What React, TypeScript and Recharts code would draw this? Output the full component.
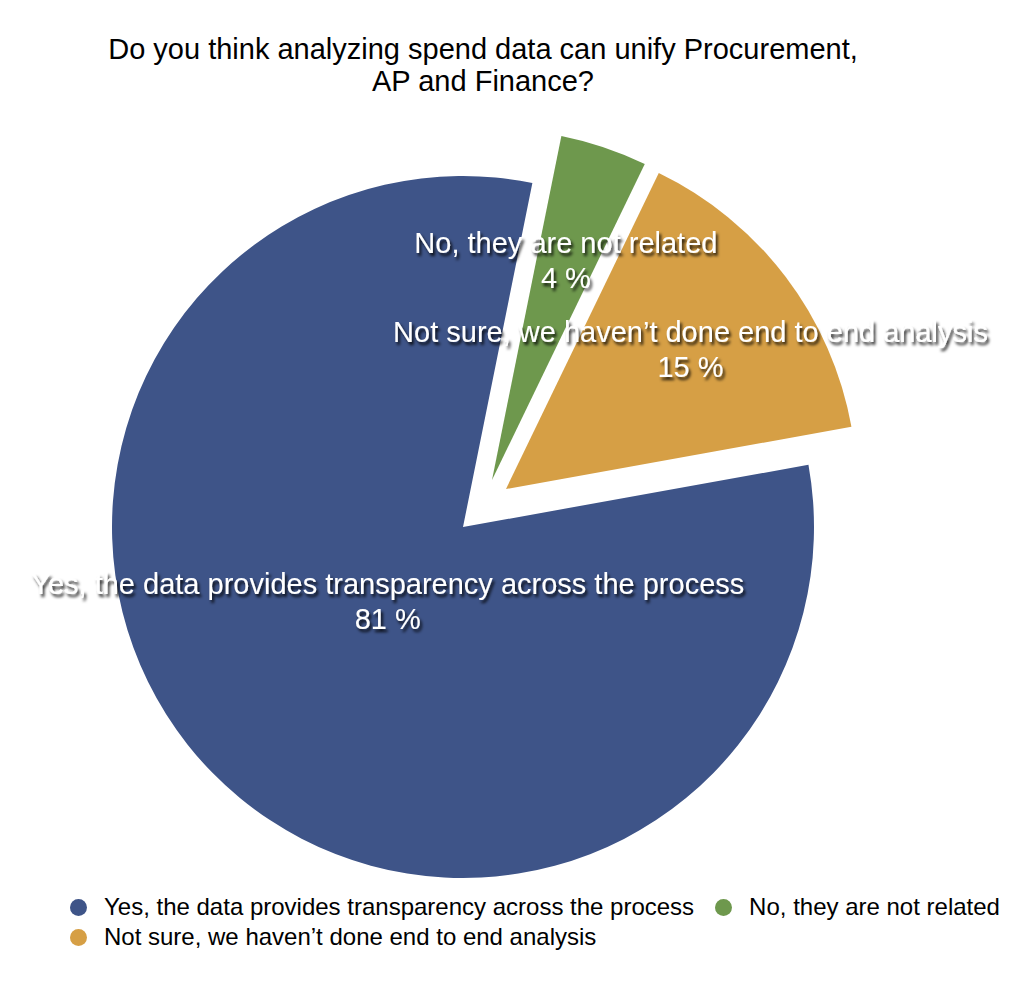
import React from 'react';
import { Cell, Legend, Pie, PieChart } from 'recharts';

const categories = [
  'Yes, the data provides transparency across the process',
  'No, they are not related',
  'Not sure, we haven\u2019t done end to end analysis'
];
const shares = [81, 4, 15];
const colors = ['#3e5488', '#6e984d', '#d69f45'];

const data = categories.map((name, i) => ({ name, value: shares[i] }));

// pie geometry and exploded slice offsets
const CX = 463;
const CY = 527;
const R = 351;
const explode = [
  [0, 0],
  [29, -47],
  [43, -38]
];
const labelDist = [0.3, 0.66, 0.66];
const FONT = '"Liberation Sans", Arial, Helvetica, sans-serif';

const makeLabel = (own: number) => (props: any) => {
  if (props.index !== own) return null;
  const [dx, dy] = explode[own];
  const rad = (props.midAngle * Math.PI) / 180;
  const d = R * labelDist[own];
  const x = CX + dx + d * Math.cos(rad);
  const y = CY + dy - d * Math.sin(rad);
  return (
    <text
      key={`lbl-${own}`}
      textAnchor="middle"
      fill="#fff"
      fontSize={29}
      fontFamily={FONT}
      filter="url(#txtShadow)"
    >
      <tspan x={x} y={y - 7}>
        {categories[own]}
      </tspan>
      <tspan x={x} y={y + 28}>
        {`${shares[own]} %`}
      </tspan>
    </text>
  );
};

const renderLegend = () => (
  <div
    style={{
      display: 'flex',
      flexWrap: 'wrap',
      width: 960,
      paddingLeft: 70,
      fontFamily: FONT,
      fontSize: 24,
      color: '#000',
      lineHeight: '30px'
    }}
  >
    {categories.map((name, i) => (
      <div key={name} style={{ display: 'flex', alignItems: 'center', marginRight: 21 }}>
        <span
          style={{
            display: 'inline-block',
            width: 17,
            height: 17,
            borderRadius: '50%',
            background: colors[i],
            marginRight: 17
          }}
        />
        <span>{name}</span>
      </div>
    ))}
  </div>
);

const App: React.FC = () => {
  return (
    <div style={{ position: 'absolute', left: 0, top: 0, width: 1024, height: 983, background: '#fff' }}>
      <svg width={0} height={0} style={{ position: 'absolute' }}>
        <defs>
          <filter id="txtShadow" x="-10%" y="-30%" width="120%" height="160%">
            <feDropShadow dx={2} dy={3} stdDeviation={1.8} floodColor="#000" floodOpacity={0.85} />
          </filter>
        </defs>
      </svg>
      <div
        style={{
          position: 'absolute',
          left: 0,
          top: 33,
          width: 966,
          textAlign: 'center',
          fontFamily: FONT,
          fontSize: 29,
          lineHeight: '32px',
          color: '#000'
        }}
      >
        Do you think analyzing spend data can unify Procurement,
        <br />
        AP and Finance?
      </div>
      <div style={{ position: 'absolute', left: 0, top: 0 }}>
        <PieChart width={1024} height={983} margin={{ top: 0, right: 0, bottom: 0, left: 0 }}>
          {[0, 1, 2].map((own) => (
            <Pie
              key={own}
              data={data}
              dataKey="value"
              nameKey="name"
              cx={CX + explode[own][0]}
              cy={CY + explode[own][1]}
              outerRadius={R}
              startAngle={370.2}
              endAngle={10.2}
              stroke="none"
              labelLine={false}
              label={makeLabel(own)}
              isAnimationActive={false}
            >
              {data.map((entry, i) => (
                <Cell key={entry.name} fill={i === own ? colors[i] : 'none'} stroke="none" />
              ))}
            </Pie>
          ))}
          <Legend
            content={renderLegend}
            wrapperStyle={{ position: 'absolute', left: 0, top: 892, width: 1024 }}
          />
        </PieChart>
      </div>
    </div>
  );
};

export default App;
